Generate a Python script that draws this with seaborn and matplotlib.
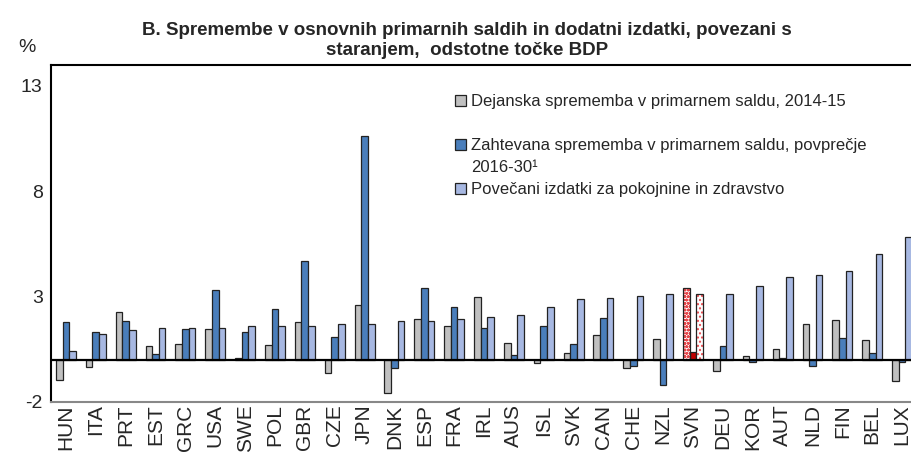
import pandas as pd
import seaborn as sns
import matplotlib.pyplot as plt
from matplotlib.patches import Rectangle

countries = ['HUN', 'ITA', 'PRT', 'EST', 'GRC', 'USA', 'SWE', 'POL', 'GBR', 'CZE',
             'JPN', 'DNK', 'ESP', 'FRA', 'IRL', 'AUS', 'ISL', 'SVK', 'CAN', 'CHE',
             'NZL', 'SVN', 'DEU', 'KOR', 'AUT', 'NLD', 'FIN', 'BEL', 'LUX']
actual_change = [-0.96, -0.35, 2.28, 0.63, 0.74, 1.44, 0.06, 0.69, 1.77, -0.66,
                 2.61, -1.59, 1.92, 1.57, 2.97, 0.77, -0.18, 0.30, 1.16, -0.40,
                 0.96, 3.41, -0.54, 0.19, 0.49, 1.71, 1.90, 0.92, -1.02]
required_change = [1.79, 1.32, 1.85, 0.28, 1.43, 3.30, 1.30, 2.40, 4.67, 1.08,
                   10.6, -0.38, 3.41, 2.50, 1.49, 0.20, 1.57, 0.74, 1.96, -0.32,
                   -1.20, 0.36, 0.63, -0.11, 0.05, -0.33, 1.02, 0.31, -0.11]
ageing_costs = [0.41, 1.21, 1.40, 1.51, 1.51, 1.51, 1.60, 1.60, 1.60, 1.71,
                1.71, 1.81, 1.81, 1.92, 2.01, 2.10, 2.50, 2.89, 2.90, 3.00,
                3.09, 3.09, 3.09, 3.49, 3.90, 3.99, 4.21, 5.00, 5.84]

series = ['Dejanska sprememba v primarnem saldu, 2014-15',
          'Zahtevana sprememba v primarnem saldu, povprečje 2016-30¹',
          'Povečani izdatki za pokojnine in zdravstvo']
colors = ['#C0C0C0', '#4A7EBB', '#A7B8E2']
yticks = [13, 8, 3, -2]

df = pd.DataFrame({'country': countries,
                   series[0]: actual_change,
                   series[1]: required_change,
                   series[2]: ageing_costs})
long = df.melt(id_vars='country', var_name='series', value_name='value')

sns.set_style('white')
plt.rcParams['font.family'] = ['Liberation Sans', 'DejaVu Sans']
plt.rcParams['axes.unicode_minus'] = False

fig = plt.figure(figsize=(9.12, 4.53), dpi=100)
ax = fig.add_axes([0.0559, 0.1133, 0.9496, 0.744])

sns.barplot(data=long, x='country', y='value', hue='series', hue_order=series,
            palette=colors, saturation=1, width=0.667, gap=0, errorbar=None,
            edgecolor='#222222', linewidth=0.9, legend=False, ax=ax)

# Slovenia highlighted in red
i = countries.index('SVN')
for k, cont in enumerate(ax.containers):
    p = cont[i]
    if k == 1:
        p.set_facecolor('#C00000')
        continue
    p.set_facecolor('white')
    p.set_edgecolor('#E8474B')
    p.set_linewidth(0)
    p.set_hatch('ooooo' if k == 0 else '....')
    ax.add_patch(Rectangle(p.get_xy(), p.get_width(), p.get_height(),
                           fill=False, edgecolor='#222222', lw=0.9))

ax.axhline(0, color='black', lw=1.6)
ax.set_xlim(-0.5, len(countries) - 0.5)
ax.set_ylim(-2, 14)
ax.set_yticks(yticks)
ax.set_xlabel('')
ax.set_ylabel('')
ax.tick_params(axis='y', direction='in', length=6, width=1.2, labelsize=14, pad=6)
ax.tick_params(axis='x', length=0, labelsize=15, rotation=90, pad=2)
for s in ['left', 'top']:
    ax.spines[s].set_color('black')
    ax.spines[s].set_linewidth(1.5)
ax.spines['bottom'].set_color('#888888')
ax.spines['bottom'].set_linewidth(1.5)
ax.spines['right'].set_visible(False)

blank = Rectangle((0, 0), 1, 1, fill=False, edgecolor='none', linewidth=0)
handles = [Rectangle((0, 0), 1, 1, fc=colors[0], ec='#222222', lw=0.9), blank,
           Rectangle((0, 0), 1, 1, fc=colors[1], ec='#222222', lw=0.9), blank,
           Rectangle((0, 0), 1, 1, fc=colors[2], ec='#222222', lw=0.9)]
labels = [series[0], '', 'Zahtevana sprememba v primarnem saldu, povprečje',
          '2016-30¹', series[2]]
ax.legend(handles, labels, loc='upper left', bbox_to_anchor=(0.466, 0.912),
          frameon=False, fontsize=12, handlelength=0.7, handleheight=0.7,
          handletextpad=0.3, labelspacing=0.42, borderpad=0, borderaxespad=0)

fig.text(0.512, 0.952, 'B. Spremembe v osnovnih primarnih saldih in dodatni izdatki, povezani s\n'
         'staranjem,  odstotne točke BDP', ha='center', va='top',
         fontsize=13.5, weight='bold', linespacing=1.25)
fig.text(0.03, 0.895, '%', ha='center', va='center', fontsize=14)

fig.savefig('out.png', dpi=100)
